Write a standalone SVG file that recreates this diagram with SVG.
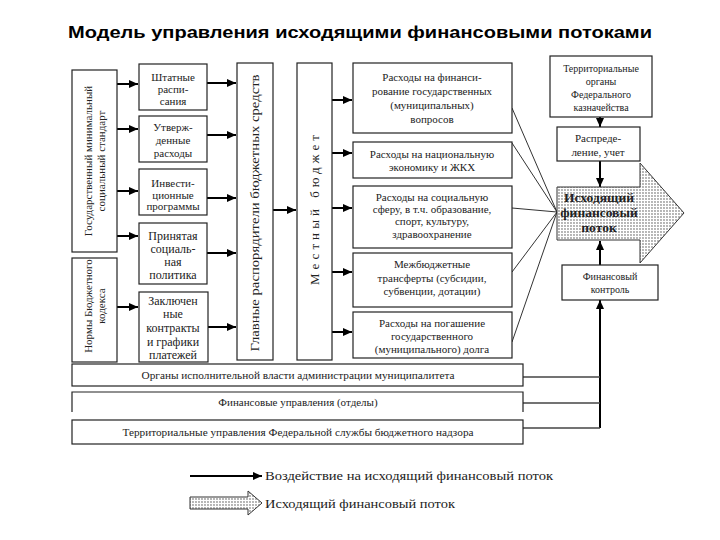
<svg xmlns="http://www.w3.org/2000/svg" width="720" height="540" viewBox="0 0 720 540">
<defs>
<marker id="ah" markerUnits="userSpaceOnUse" markerWidth="9" markerHeight="8" refX="9" refY="4" orient="auto"><path d="M0,0 L9,4 L0,8 z" fill="#000"/></marker>
<pattern id="dots" width="3" height="3" patternUnits="userSpaceOnUse"><rect width="3" height="3" fill="#fff"/><circle cx="1" cy="1" r="0.65" fill="#333"/></pattern>
<style>
.b{fill:#fff;stroke:#222;stroke-width:1.2}
.t{font-family:"Liberation Serif","DejaVu Serif",serif;fill:#222;text-anchor:middle}
.s10{font-size:10px}.s11{font-size:11px}.s12{font-size:12px}.r{font-size:11px}
.c{stroke:#000;stroke-width:2;fill:none;marker-end:url(#ah)}
.l{stroke:#333;stroke-width:1;fill:none}
.ln{stroke:#444;stroke-width:1.5;fill:none}
</style>
</defs>
<rect width="720" height="540" fill="#fff"/>
<text x="360" y="38" text-anchor="middle" font-family="Liberation Sans,Arial,sans-serif" font-weight="bold" font-size="17" textLength="584" lengthAdjust="spacingAndGlyphs" fill="#000">Модель управления исходящими финансовыми потоками</text>

<g id="connectors">
<line class="c" x1="117" y1="84" x2="138" y2="84"/>
<line class="c" x1="117" y1="129" x2="138" y2="129"/>
<line class="c" x1="117" y1="191" x2="138" y2="191"/>
<line class="c" x1="117" y1="236" x2="138" y2="236"/>
<line class="c" x1="117" y1="307" x2="138" y2="307"/>
<line class="c" x1="207" y1="83" x2="236" y2="83"/>
<line class="c" x1="207" y1="135" x2="236" y2="135"/>
<line class="c" x1="207" y1="198" x2="236" y2="198"/>
<line class="c" x1="207" y1="253" x2="236" y2="253"/>
<line class="c" x1="208" y1="327" x2="236" y2="327"/>
<line class="c" x1="273" y1="210" x2="296" y2="210"/>
<line class="c" x1="332" y1="100" x2="352" y2="100"/>
<line class="c" x1="332" y1="153" x2="352" y2="153"/>
<line class="c" x1="332" y1="208" x2="352" y2="208"/>
<line class="c" x1="332" y1="272" x2="352" y2="272"/>
<line class="c" x1="332" y1="332" x2="352" y2="332"/>
<line class="l" x1="512" y1="108" x2="557" y2="212"/>
<line class="l" x1="512" y1="143" x2="557" y2="212"/>
<line class="l" x1="512" y1="208" x2="557" y2="212"/>
<line class="l" x1="512" y1="272" x2="557" y2="212"/>
<line class="l" x1="512" y1="342" x2="557" y2="212"/>
<line class="c" x1="600" y1="117" x2="600" y2="127"/>
<line class="c" x1="600" y1="161" x2="600" y2="187"/>
<line class="c" x1="600" y1="265" x2="600" y2="241"/>
<line class="c" x1="600" y1="428" x2="600" y2="300"/>
<line class="ln" x1="523" y1="377" x2="600" y2="377"/>
<line class="ln" x1="523" y1="403" x2="600" y2="403"/>
<line class="ln" x1="523" y1="428" x2="600" y2="428"/>
</g>

<g id="n-gos-standart">
<rect class="b" x="72" y="70" width="45" height="182"/>
<g transform="translate(95,161) rotate(-90)">
<text class="t s11" x="0" y="-3">Государственный минимальный</text>
<text class="t s11" x="0" y="10">социальный стандарт</text>
</g>
</g>
<g id="n-normy">
<rect class="b" x="72" y="258" width="45" height="104"/>
<g transform="translate(95,306) rotate(-90)">
<text class="t s11" x="0" y="-3">Нормы Бюджетного</text>
<text class="t s11" x="0" y="10">кодекса</text>
</g>
</g>

<g id="n-shtatnye">
<rect class="b" x="139" y="64" width="68" height="46"/>
<text class="t s11" x="173" y="81">Штатные</text>
<text class="t s11" x="173" y="93">распи-</text>
<text class="t s11" x="173" y="105">сания</text>
</g>
<g id="n-utverzh">
<rect class="b" x="139" y="116" width="68" height="46"/>
<text class="t s11" x="173" y="131">Утверж-</text>
<text class="t s11" x="173" y="144">денные</text>
<text class="t s11" x="173" y="157">расходы</text>
</g>
<g id="n-invest">
<rect class="b" x="139" y="169" width="68" height="46"/>
<text class="t s11" x="173" y="187">Инвести-</text>
<text class="t s11" x="173" y="199">ционные</text>
<text class="t s11" x="173" y="210">программы</text>
</g>
<g id="n-prinyataya">
<rect class="b" x="139" y="223" width="68" height="61"/>
<text class="t s12" x="173" y="240">Принятая</text>
<text class="t s12" x="173" y="253">социаль-</text>
<text class="t s12" x="173" y="266">ная</text>
<text class="t s12" x="173" y="279">политика</text>
</g>
<g id="n-zaklyuch">
<rect class="b" x="139" y="292" width="69" height="70"/>
<text class="t s12" x="173" y="305">Заключен</text>
<text class="t s12" x="173" y="318">ные</text>
<text class="t s12" x="173" y="332">контракты</text>
<text class="t s12" x="173" y="346">и графики</text>
<text class="t s12" x="173" y="359">платежей</text>
</g>

<g id="n-glavnye">
<rect class="b" x="237" y="63" width="36" height="297"/>
<text class="t" font-size="12.5" transform="translate(259,213) rotate(-90)" textLength="277" lengthAdjust="spacingAndGlyphs">Главные распорядители бюджетных средств</text>
</g>
<g id="n-mestny">
<rect class="b" x="297" y="63" width="35" height="297"/>
<text class="t" font-size="13" transform="translate(319,210) rotate(-90)" textLength="150" lengthAdjust="spacing">Местный  бюджет</text>
</g>

<g id="n-rashod-fin">
<rect class="b" x="353" y="63" width="159" height="70"/>
<text class="t r" x="432" y="81">Расходы на финанси-</text>
<text class="t r" x="432" y="95">рование государственных</text>
<text class="t r" x="432" y="109">(муниципальных)</text>
<text class="t r" x="432" y="123">вопросов</text>
</g>
<g id="n-rashod-ek">
<rect class="b" x="353" y="142" width="159" height="36"/>
<text class="t r" x="432" y="158">Расходы на национальную</text>
<text class="t r" x="432" y="171">экономику и ЖКХ</text>
</g>
<g id="n-rashod-soc">
<rect class="b" x="353" y="186" width="159" height="62"/>
<text class="t r" x="432" y="201">Расходы на социальную</text>
<text class="t r" x="432" y="213">сферу, в т.ч. образование,</text>
<text class="t r" x="432" y="225">спорт, культуру,</text>
<text class="t r" x="432" y="238">здравоохранение</text>
</g>
<g id="n-transfer">
<rect class="b" x="353" y="253" width="159" height="54"/>
<text class="t r" x="432" y="268">Межбюджетные</text>
<text class="t r" x="432" y="282">трансферты (субсидии,</text>
<text class="t r" x="432" y="295">субвенции, дотации)</text>
</g>
<g id="n-dolg">
<rect class="b" x="353" y="312" width="159" height="46"/>
<text class="t r" x="432" y="327">Расходы на погашение</text>
<text class="t r" x="432" y="340">государственного</text>
<text class="t r" x="432" y="353">(муниципального) долга</text>
</g>

<g id="n-kaznach">
<rect class="b" x="550" y="56" width="102" height="61"/>
<text class="t s10" x="601" y="72">Территориальные</text>
<text class="t s10" x="601" y="85">органы</text>
<text class="t s10" x="601" y="98">Федерального</text>
<text class="t s10" x="601" y="111">казначейства</text>
</g>
<g id="n-raspred">
<rect class="b" x="557" y="127" width="83" height="34"/>
<text class="t s11" x="598" y="142">Распреде-</text>
<text class="t s11" x="598" y="156">ление, учет</text>
</g>
<g id="n-potok">
<path d="M557,187 H640 V163 L684,213 L640,263 V240 H557 Z" fill="url(#dots)" stroke="#333" stroke-width="1"/>
<text class="t" font-size="13.5" font-weight="bold" fill="#1a1a4a" x="599" y="202">Исходящий</text>
<text class="t" font-size="13.5" font-weight="bold" fill="#1a1a4a" x="599" y="217">финансовый</text>
<text class="t" font-size="13.5" font-weight="bold" fill="#1a1a4a" x="599" y="232">поток</text>
</g>
<g id="n-kontrol">
<rect class="b" x="562" y="265" width="96" height="35"/>
<text class="t s10" x="610" y="280">Финансовый</text>
<text class="t s10" x="610" y="293">контроль</text>
</g>

<g id="n-organy">
<rect class="b" x="72" y="364" width="451" height="22"/>
<text class="t" font-size="11" x="298" y="379" textLength="313" lengthAdjust="spacingAndGlyphs">Органы исполнительной власти администрации муниципалитета</text>
</g>
<g id="n-finupr">
<path d="M72,412 V392 H523 V412" fill="#fff" stroke="#222" stroke-width="1.2"/>
<text class="t" font-size="11" x="298" y="406">Финансовые управления (отделы)</text>
</g>
<g id="n-tu-fsbn">
<rect class="b" x="72" y="420" width="451" height="24"/>
<text class="t" font-size="11" x="298" y="436" textLength="351" lengthAdjust="spacingAndGlyphs">Территориальные управления Федеральной службы бюджетного надзора</text>
</g>

<g id="legend">
<line class="c" x1="190" y1="476" x2="262" y2="476"/>
<text class="t" font-size="13" x="265" y="480" style="text-anchor:start" textLength="288" lengthAdjust="spacingAndGlyphs">Воздействие на исходящий финансовый поток</text>
<path d="M190,497 H248 V491 L262,503 L248,515 V509 H190 Z" fill="url(#dots)" stroke="#333" stroke-width="1"/>
<text class="t" font-size="13" x="265" y="508" style="text-anchor:start" textLength="190" lengthAdjust="spacingAndGlyphs">Исходящий финансовый поток</text>
</g>
</svg>
